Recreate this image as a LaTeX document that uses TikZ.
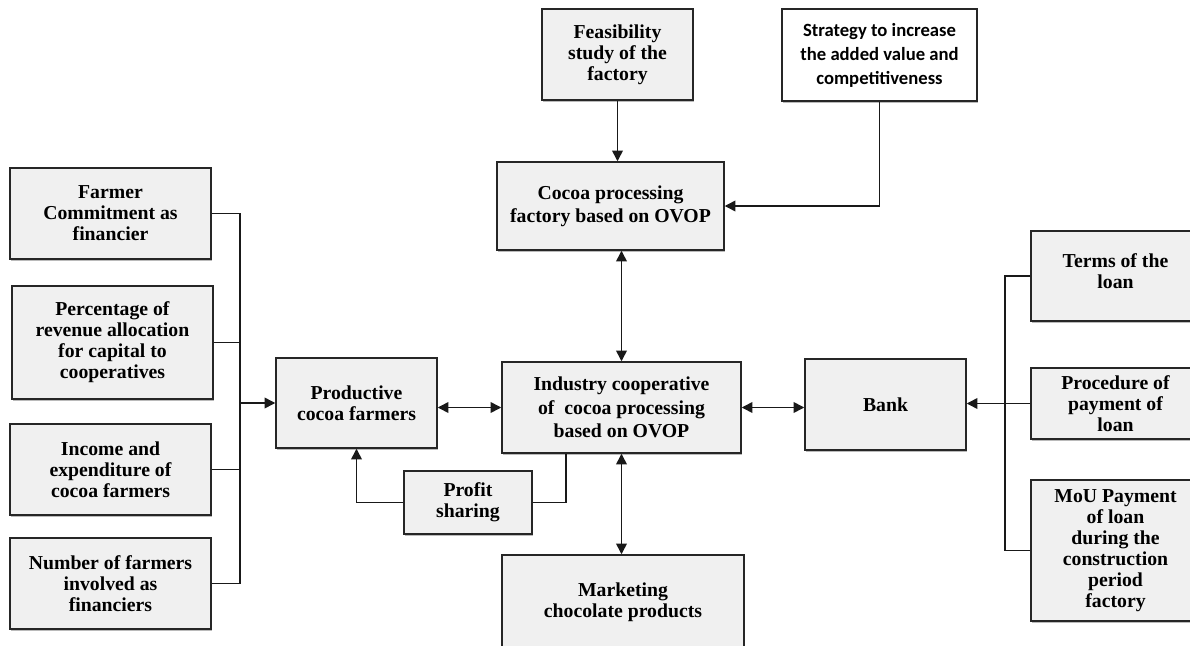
\documentclass[tikz,border=0pt]{standalone}
\usepackage{fontspec}
\setmainfont{Liberation Serif}
\newfontfamily\calfont{Carlito}
\usetikzlibrary{arrows.meta,shadows}
\begin{document}
\begin{tikzpicture}[x=0.75pt,y=-0.75pt,
  box/.style={draw=black!85, line width=1.1pt, fill=black!6, inner sep=0pt, align=center,
    font=\fontsize{14.8}{15.8}\selectfont\bfseries,
    drop shadow={shadow xshift=1pt, shadow yshift=-1.2pt, fill=black!45, opacity=0.6}},
  tall/.style={font=\fontsize{14.8}{17.5}\selectfont\bfseries},
  wbox/.style={box, fill=white, font=\calfont\fontsize{14}{18}\selectfont\bfseries},
  sz/.style 2 args={minimum width=#1*0.75pt, minimum height=#2*0.75pt},
  ln/.style={line width=1.1pt, draw=black!90},
  tip/.tip={Triangle[length=8pt,width=8pt]},
  arr/.style={ln, -tip},
  darr/.style={ln, tip-tip}]
\useasboundingbox (0,0) rectangle (1190,646);
\clip (0,0) rectangle (1190,646);
\fill[white] (0,0) rectangle (1190,646);

% top
\node[box, sz={151}{91}] (feas) at (617.5,54.5) {Feasibility\\study of the\\factory};
\node[wbox, sz={195}{92}] (strat) at (879.5,55) {Strategy to increase\\the added value and\\competitiveness};
\node[box, tall, sz={227}{88}] (factory) at (610.5,206) {Cocoa processing\\factory based on OVOP};

% left
\node[box, sz={201}{91}] (f1) at (110.5,213.5) {Farmer\\Commitment as\\financier};
\node[box, sz={201}{113}] (f2) at (112.5,342.5) {Percentage of\\revenue allocation\\for capital to\\cooperatives};
\node[box, sz={201}{91}] (f3) at (110.5,469.5) {Income and\\expenditure of\\cocoa farmers};
\node[box, sz={201}{91}] (f4) at (110.5,583.5) {Number of farmers\\involved as\\financiers};

% centre
\node[box, sz={161}{90}] (prod) at (356.5,403) {Productive\\cocoa farmers};
\node[box, tall, sz={239}{91}] (ind) at (621.5,407.5) {Industry cooperative\\of\ \ cocoa processing\\based on OVOP};
\node[box, sz={128}{63}] (profit) at (468,502.5) {Profit\\sharing};
\node[box, sz={242}{95}] (market) at (623,602.5) {Marketing\\chocolate products};

% right
\node[box, sz={161}{91}] (bank) at (885.5,404.5) {Bank};
\node[box, sz={169}{90}, text depth=7pt] (terms) at (1115.5,276) {Terms of the\\loan};
\node[box, sz={169}{71}] (proc) at (1115.5,403.5) {Procedure of\\payment of\\loan};
\node[box, sz={169}{141}] (mou) at (1115.5,550.5) {MoU Payment\\of loan\\during the\\construction\\period\\factory};

% connectors top
\draw[arr] (feas.south) -- (feas.south |- factory.north);
\draw[arr] (strat.south) |- (factory.east);
\draw[darr] (ind.north) -- (ind.north |- factory.south);

% left bus
\coordinate (lbus) at (240,0);
\draw[ln] (f1.east) -- (f1.east -| lbus) -- (f4.east -| lbus) -- (f4.east);
\draw[ln] (f2.east) -- (f2.east -| lbus);
\draw[ln] (f3.east) -- (f3.east -| lbus);
\draw[arr] (prod.west -| lbus) -- (prod.west);

% centre connectors
\draw[darr] (ind.west -| prod.east) -- (ind.west);
\draw[arr] (profit.west) -| (prod.south);
\coordinate (pj) at (566,0);
\draw[ln] (ind.south -| pj) |- (profit.east);
\draw[darr] (ind.south) -- (ind.south |- market.north);
\draw[darr] (ind.east) -- (ind.east -| bank.west);

% right bus
\coordinate (rbus) at (1005,0);
\draw[ln] (terms.west) -- (terms.west -| rbus) -- (mou.west -| rbus) -- (mou.west);
\draw[arr] (proc.west) -- (proc.west -| bank.east);
\end{tikzpicture}
\end{document}
